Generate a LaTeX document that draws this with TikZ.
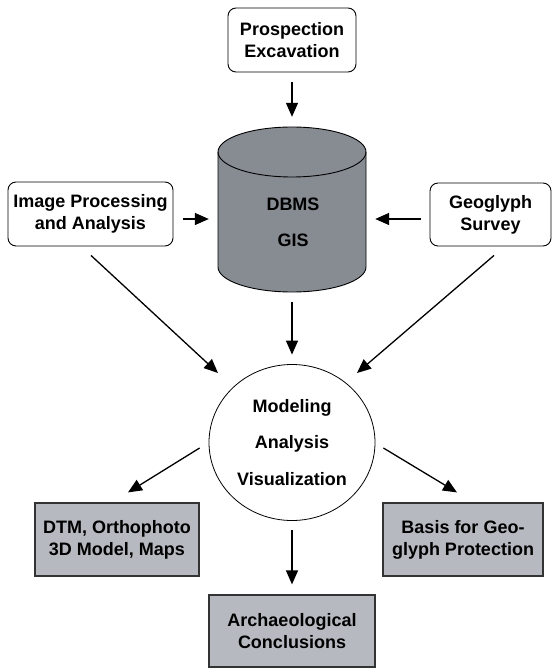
\documentclass[tikz,border=0pt]{standalone}
\usepackage{fontspec}
\setmainfont{Liberation Sans}
\usetikzlibrary{arrows.meta,calc,shapes.geometric}
\definecolor{boxgray}{RGB}{182,186,192}
\definecolor{cylgray}{RGB}{135,140,147}
\begin{document}
\begin{tikzpicture}[x=1pt,y=-1pt,
  font=\bfseries\fontsize{18}{22}\selectfont,
  arr/.style={line width=1.3pt,-{Triangle[length=14pt,width=12pt]}},
  rbox/.style={draw,rounded corners=8pt,line width=0.9pt,inner sep=0pt,align=center},
  gbox/.style={draw=black!80,fill=boxgray,line width=1.2pt,inner sep=0pt,align=center}]
\useasboundingbox (0,0) rectangle (553,668);

% cylinder (DBMS / GIS)
\filldraw[fill=cylgray,line width=0.9pt]
  (218,152) -- (218,267) arc[start angle=180,end angle=0,x radius=74,y radius=25]
  -- (366,152) arc[start angle=0,end angle=-180,x radius=74,y radius=25] -- cycle;
\draw[line width=0.9pt] (218,152) arc[start angle=180,end angle=0,x radius=74,y radius=25];
\node[minimum width=148,minimum height=165,inner sep=0pt] (db) at (292,209.5) {};
\node[align=center,font=\bfseries\fontsize{18}{36}\selectfont] (dbtext) at (293,222) {DBMS\\GIS};

% boxes
\node[rbox,minimum width=128,minimum height=64] (pe) at (292,40) {Prospection\\Excavation};
\node[rbox,minimum width=165,minimum height=64] (ip) at (90.5,214) {Image Processing\\and Analysis};
\node[rbox,minimum width=121,minimum height=63] (gs) at (490.5,214.5) {Geoglyph\\Survey};

\node[ellipse,draw,line width=0.8pt,minimum width=166,minimum height=156,inner sep=0pt,align=center,
  font=\bfseries\fontsize{18}{36.5}\selectfont] (mv) at (292,442.5) {Modeling\\Analysis\\Visualization};

\node[gbox,minimum width=164,minimum height=73] (dtm) at (117,539.5) {DTM, Orthophoto\\3D Model, Maps};
\node[gbox,minimum width=160,minimum height=73] (bas) at (463,539.5) {Basis for Geo-\\glyph Protection};
\node[gbox,minimum width=166,minimum height=72] (ac) at (292,631) {Archaeological\\Conclusions};

% arrows
\draw[arr] ($(pe.south)+(0,10)$) -- ($(db.north)+(0,-10)$);
\draw[arr] ($(ip.east)+(10,5)$) -- ($(db.west)+(-9,9.5)$);
\draw[arr] ($(gs.west)+(-9,4.5)$) -- ($(db.east)+(9,9.5)$);
\draw[arr] ($(ip.south)+(0.5,9)$) -- ($(mv.center)+(-74,-69.5)$);
\draw[arr] ($(gs.south)+(3.5,9)$) -- ($(mv.center)+(65,-69.5)$);
\draw[arr] ($(db.south)+(0,10)$) -- ($(mv.north)+(0,-9.5)$);
\draw[arr] ($(mv.west)+(-9,5.5)$) -- ($(dtm.north)+(11,-10)$);
\draw[arr] ($(mv.east)+(8,5.5)$) -- ($(bas.north)+(-6,-10)$);
\draw[arr] ($(mv.south)+(0,9.5)$) -- ($(ac.north)+(0,-10)$);
\end{tikzpicture}
\end{document}
